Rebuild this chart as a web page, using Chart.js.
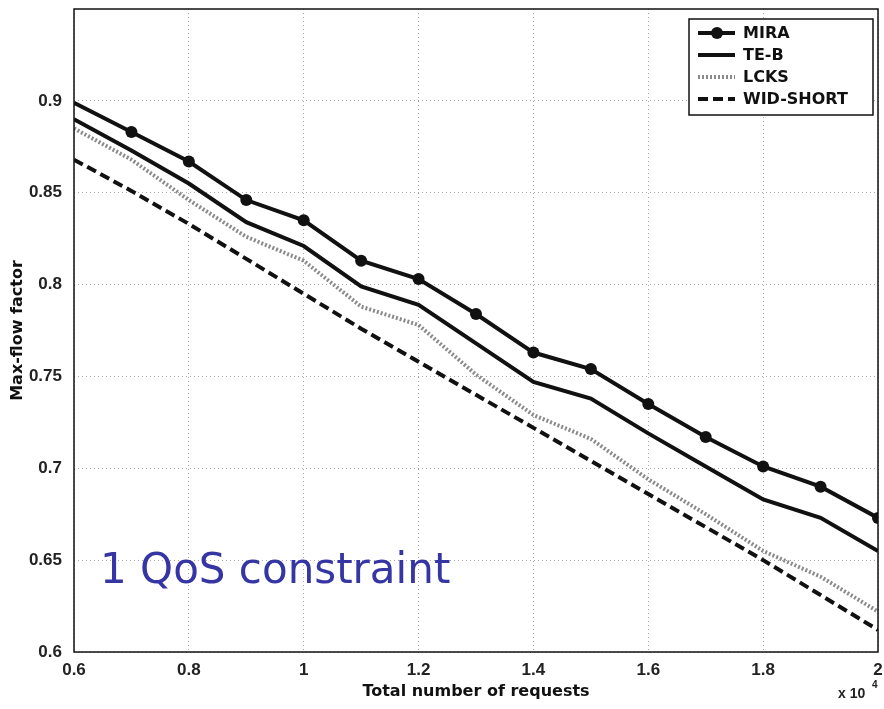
<!DOCTYPE html>
<html>
<head>
<meta charset="utf-8">
<script src="https://cdn.jsdelivr.net/npm/chart.js@4.4.1/dist/chart.umd.min.js"></script>
<style>
  html, body { margin: 0; padding: 0; background: #fff; }
  #wrap { width: 884px; height: 709px; }
</style>
</head>
<body>
<div id="wrap"><canvas id="chart" width="884" height="709"></canvas></div>
<script>
  // requests (x 10^4)
  const requests = [0.6, 0.7, 0.8, 0.9, 1.0, 1.1, 1.2, 1.3, 1.4, 1.5, 1.6, 1.7, 1.8, 1.9, 2.0];
  const mira     = [0.899, 0.883, 0.867, 0.846, 0.835, 0.813, 0.803, 0.784, 0.763, 0.754, 0.735, 0.717, 0.701, 0.690, 0.673];
  const teb      = [0.890, 0.873, 0.855, 0.834, 0.821, 0.799, 0.789, 0.768, 0.747, 0.738, 0.719, 0.701, 0.683, 0.673, 0.655];
  const lcks     = [0.885, 0.868, 0.846, 0.826, 0.813, 0.788, 0.778, 0.751, 0.729, 0.716, 0.694, 0.675, 0.655, 0.641, 0.622];
  const widShort = [0.868, 0.851, 0.833, 0.814, 0.795, 0.776, 0.758, 0.740, 0.722, 0.704, 0.686, 0.668, 0.650, 0.631, 0.612];

  const xTicks = [0.6, 0.8, 1.0, 1.2, 1.4, 1.6, 1.8, 2.0];
  const yTicks = [0.6, 0.65, 0.7, 0.75, 0.8, 0.85, 0.9];

  const tickFont = { family: '"Liberation Sans", Arial, sans-serif', size: 17, weight: 'bold' };
  const titleFont = { family: '"DejaVu Sans", sans-serif', size: 16, weight: 'bold' };

  function pts(ys) {
    return requests.map((x, i) => ({ x: x, y: ys[i] }));
  }

  // frame round the plot + legend box + note
  const extras = {
    id: 'extras',
    afterDatasetsDraw(chart) {
      const ctx = chart.ctx;
      const a = chart.chartArea;
      ctx.save();
      ctx.strokeStyle = '#111';
      ctx.lineWidth = 1.5;
      ctx.setLineDash([]);
      ctx.strokeRect(a.left, a.top, a.right - a.left, a.bottom - a.top);

      // legend
      const bx = 689, by = 19, bw = 184, bh = 96;
      ctx.fillStyle = '#fff';
      ctx.fillRect(bx, by, bw, bh);
      ctx.lineWidth = 1.5;
      ctx.strokeRect(bx, by, bw, bh);
      ctx.font = 'bold 16px "DejaVu Sans", sans-serif';
      ctx.textBaseline = 'middle';
      chart.data.datasets.forEach((ds, i) => {
        const y = by + 14 + i * 22;
        ctx.strokeStyle = ds.borderColor;
        ctx.lineWidth = ds.borderWidth;
        ctx.setLineDash(ds.borderDash || []);
        ctx.beginPath();
        ctx.moveTo(bx + 9, y);
        ctx.lineTo(bx + 46, y);
        ctx.stroke();
        if (ds.legendMarker) {
          ctx.setLineDash([]);
          ctx.fillStyle = ds.pointBackgroundColor;
          ctx.beginPath();
          ctx.arc(bx + 28, y, 6, 0, Math.PI * 2);
          ctx.fill();
        }
        ctx.fillStyle = '#111';
        ctx.fillText(ds.label, bx + 54, y + 1);
      });

      // x 10^4
      ctx.fillStyle = '#222';
      ctx.font = 'bold 14px "Liberation Sans", Arial, sans-serif';
      ctx.textBaseline = 'alphabetic';
      ctx.fillText('x 10', 838, 698);
      ctx.font = 'bold 10px "Liberation Sans", Arial, sans-serif';
      ctx.fillText('4', 872, 688);

      // note
      ctx.fillStyle = '#3535a3';
      ctx.font = '42px "DejaVu Sans", sans-serif';
      ctx.fillText('1 QoS constraint', 100, 583);
      ctx.restore();
    }
  };

  new Chart(document.getElementById('chart'), {
    type: 'line',
    data: {
      datasets: [
        { label: 'MIRA', data: pts(mira), borderColor: '#111', borderWidth: 4, legendMarker: true,
          pointRadius: [0, 6, 6, 6, 6, 6, 6, 6, 6, 6, 6, 6, 6, 6, 6], pointBackgroundColor: '#111', pointBorderWidth: 0 },
        { label: 'TE-B', data: pts(teb), borderColor: '#111', borderWidth: 4, pointRadius: 0 },
        { label: 'LCKS', data: pts(lcks), borderColor: '#8a8a8a', borderWidth: 4, borderDash: [2, 2], pointRadius: 0 },
        { label: 'WID-SHORT', data: pts(widShort), borderColor: '#111', borderWidth: 4, borderDash: [10, 5], pointRadius: 0 }
      ]
    },
    options: {
      responsive: false,
      animation: false,
      layout: { padding: { top: 9, right: 4, left: 0, bottom: 0 } },
      plugins: { legend: { display: false }, tooltip: { enabled: false } },
      elements: { line: { tension: 0 } },
      scales: {
        x: {
          type: 'linear', min: 0.6, max: 2,
          afterBuildTicks: s => { s.ticks = xTicks.map(v => ({ value: v })); },
          afterFit: s => { s.height = 57; s.paddingLeft = 0; s.paddingRight = 0; },
          grid: { color: '#a8a8a8', lineWidth: 1, drawTicks: false },
          border: { display: false, dash: [1, 3] },
          ticks: { font: tickFont, color: '#222', padding: 8, maxRotation: 0, callback: v => String(+v.toFixed(1)) },
          title: { display: true, text: 'Total number of requests', font: titleFont,
                   color: '#111', padding: { top: 0, bottom: 8 } }
        },
        y: {
          min: 0.6, max: 0.95,
          afterBuildTicks: s => { s.ticks = yTicks.map(v => ({ value: v })); },
          afterFit: s => { s.width = 74; s.paddingTop = 0; s.paddingBottom = 0; },
          grid: { color: '#a8a8a8', lineWidth: 1, drawTicks: false },
          border: { display: false, dash: [1, 3] },
          ticks: { font: tickFont, color: '#222', padding: 12, callback: v => String(+v.toFixed(2)) },
          title: { display: true, text: 'Max-flow factor', font: titleFont,
                   color: '#111', padding: { top: 8, bottom: 0 } }
        }
      }
    },
    plugins: [extras]
  });
</script>
</body>
</html>
